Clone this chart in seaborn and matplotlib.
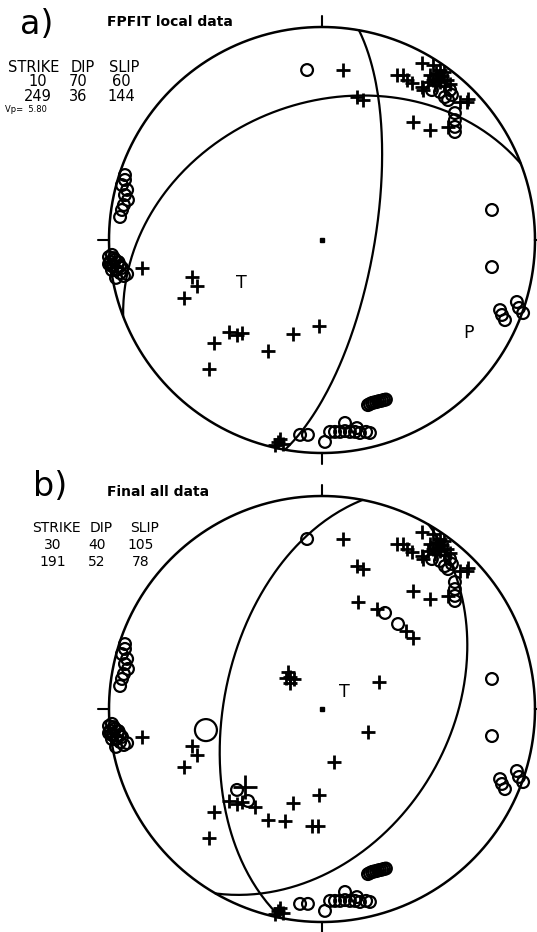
import numpy as np
import pandas as pd
import matplotlib
matplotlib.use("Agg")
import matplotlib.pyplot as plt
import seaborn as sns

sns.set_style("white")
plt.rcParams['font.family'] = ['DejaVu Sans']
plt.rcParams['text.color'] = 'black'

# nodal planes (strike, dip, slip) for both solutions
planes_a = [(10, 70, 60), (249, 36, 144)]
planes_b = [(30, 40, 105), (191, 52, 78)]

# first motions, equal-area lower hemisphere, unit radius (east, north)
dil_e = [-0.07, 0.516, 0.554, 0.601, 0.577, 0.592, 0.61, 0.624, 0.624, 0.624, 0.624,
         0.798, 0.798, 0.836, 0.845, 0.859, 0.915, 0.925, 0.944,
         0.216, 0.235, 0.254, 0.272, 0.291, 0.225, 0.244, 0.263, 0.282, 0.30,
         -0.103, -0.066, 0.014, 0.038, 0.061, 0.085, 0.108, 0.131, 0.155, 0.178, 0.207, 0.225, 0.108, 0.164,
         -0.925, -0.925, -0.939, -0.915, -0.925, -0.911, -0.93, -0.939, -0.948,
         -1.0, -0.986, -0.972, -0.981, -0.967, -0.948, -0.967, -0.93, -0.915, -0.99, -0.955,
         -0.995, -0.958, -0.948, -0.986, -0.939, -1.0, -0.977]
dil_n = [0.798, 0.704, 0.695, 0.704, 0.671, 0.657, 0.681, 0.596, 0.563, 0.531, 0.507,
         0.141, -0.127, -0.329, -0.352, -0.376, -0.291, -0.319, -0.343,
         -0.775, -0.765, -0.761, -0.756, -0.751, -0.770, -0.763, -0.758, -0.754, -0.749,
         -0.915, -0.915, -0.948, -0.901, -0.901, -0.901, -0.897, -0.901, -0.901, -0.906, -0.901, -0.906, -0.859, -0.883,
         0.305, 0.282, 0.258, 0.235, 0.211, 0.188, 0.164, 0.141, 0.108,
         -0.08, -0.07, -0.094, -0.117, -0.141, -0.155, -0.178, -0.169, -0.16, -0.12, -0.105,
         -0.103, -0.103, -0.122, -0.141, -0.131, -0.113, -0.085]

comp_e = [0.099, 0.164, 0.192,
          0.469, 0.521, 0.352, 0.38, 0.399, 0.423, 0.469, 0.474,
          0.507, 0.535, 0.563, 0.587, 0.554, 0.521, 0.577,
          0.545, 0.573, 0.531, 0.498, 0.601, 0.554,
          0.648, 0.681, 0.685, 0.427, 0.507, 0.592,
          -0.207, -0.183, -0.221, -0.197,
          -0.845, -0.61, -0.587, -0.648, -0.437, -0.399, -0.376, -0.507, -0.531,
          -0.254, -0.136, -0.014]
comp_n = [0.798, 0.671, 0.657,
          0.831, 0.822, 0.775, 0.775, 0.751, 0.737, 0.718, 0.704,
          0.775, 0.784, 0.77, 0.751, 0.742, 0.751, 0.723,
          0.761, 0.789, 0.728, 0.742, 0.732, 0.798,
          0.648, 0.648, 0.662, 0.554, 0.516, 0.531,
          -0.948, -0.958, -0.962, -0.934,
          -0.131, -0.174, -0.216, -0.272, -0.432, -0.446, -0.437, -0.484, -0.606,
          -0.521, -0.441, -0.404]

# extra readings used in the final solution only
xdil_e = [0.296, 0.357, -0.399, -0.347]
xdil_n = [0.451, 0.399, -0.38, -0.432]
xcomp_e = [0.169, 0.258, 0.394, 0.427, -0.16, -0.15, -0.169, -0.131, -0.15,
           0.268, 0.216, 0.056, -0.174, -0.047, -0.019, -0.315]
xcomp_n = [0.502, 0.469, 0.366, 0.333, 0.174, 0.15, 0.146, 0.141, 0.122,
           0.127, -0.108, -0.249, -0.526, -0.549, -0.549, -0.46]
big_dil = (-0.545, -0.099)
big_comp = (-0.362, -0.366)

# P and T axes label positions
axes_a = {'T': (-0.38, -0.202), 'P': (0.69, -0.437)}
axes_b = {'T': (0.103, 0.08)}

W, H, R = 537, 932, 213.0


def plane_trace(strike, dip, n=181):
    da = np.linspace(0, 180, n)
    plunge = np.degrees(np.arctan(np.tan(np.radians(dip)) * np.sin(np.radians(da))))
    r = np.sqrt(2) * np.sin(np.radians(90 - plunge) / 2)
    az = np.radians(strike + da)
    return pd.DataFrame({'x': r * np.sin(az), 'y': r * np.cos(az)})


def draw_panel(ax, cy_local, planes, de, dn, ce, cn, labels):
    ax.set_xlim(-322 / R, (W - 322) / R)
    ax.set_ylim(-(466 - cy_local) / R, cy_local / R)
    ax.axis('off')
    t = np.linspace(0, 2 * np.pi, 400)
    ax.plot(np.cos(t), np.sin(t), color='black', lw=1.8, clip_on=False)
    for x0, y0, x1, y1 in [(0, 1, 0, 1.05), (-1, 0, -1.05, 0), (0, -1, 0, -1.05), (1, 0, 1.05, 0)]:
        ax.plot([x0, x1], [y0, y1], color='black', lw=1.5, clip_on=False)
    for s, d, _ in planes:
        tr = plane_trace(s, d)
        sns.lineplot(data=tr, x='x', y='y', sort=False, estimator=None,
                     color='black', lw=1.6, ax=ax)
    sns.scatterplot(x=de, y=dn, marker='o', s=72, facecolor='none',
                    edgecolor='black', linewidth=1.6, ax=ax, clip_on=False)
    sns.scatterplot(x=ce, y=cn, marker='+', s=95, color='black',
                    linewidth=2.0, ax=ax, clip_on=False)
    ax.plot([0], [0], 's', color='black', ms=2.2)
    for k, (x, y) in labels.items():
        ax.text(x, y, k, fontsize=12.5, ha='center', va='center')
    ax.set_xlabel('')
    ax.set_ylabel('')


def ftext(px, py, s, **kw):
    fig.text(px / W, 1 - py / H, s, **kw)


fig = plt.figure(figsize=(W / 100, H / 100), dpi=100)
ax_a = fig.add_axes([0, 0.5, 1, 0.5])
ax_b = fig.add_axes([0, 0, 1, 0.5])

draw_panel(ax_a, 240, planes_a, dil_e, dil_n, comp_e, comp_n, axes_a)
draw_panel(ax_b, 709 - 466, planes_b, dil_e + xdil_e, dil_n + xdil_n,
           comp_e + xcomp_e, comp_n + xcomp_n, axes_b)
sns.scatterplot(x=[big_dil[0]], y=[big_dil[1]], marker='o', s=250, facecolor='none',
                edgecolor='black', linewidth=1.6, ax=ax_b)
sns.scatterplot(x=[big_comp[0]], y=[big_comp[1]], marker='+', s=300, color='black',
                linewidth=2.0, ax=ax_b)

# panel a header
ftext(20, 24, 'a)', fontsize=24, ha='left', va='center')
ftext(107, 21.5, 'FPFIT local data', fontsize=10, fontweight='bold', ha='left', va='center')
for cx, word in zip([33.5, 82.5, 124.5], ['STRIKE', 'DIP', 'SLIP']):
    ftext(cx, 67.5, word, fontsize=10.5, ha='center', va='center')
for row, yy in zip(planes_a, [82, 97]):
    for cx, v in zip([38, 78, 121], row):
        ftext(cx, yy, str(v), fontsize=10.5, ha='center', va='center')
ftext(5, 109, 'Vp=  5.80', fontsize=6, ha='left', va='center')

# panel b header
ftext(33, 487, 'b)', fontsize=24, ha='left', va='center')
ftext(107, 492, 'Final all data', fontsize=10, fontweight='bold', ha='left', va='center')
for cx, word in zip([56, 101.5, 145], ['STRIKE', 'DIP', 'SLIP']):
    ftext(cx, 528, word, fontsize=10, ha='center', va='center')
for row, yy in zip(planes_b, [545, 562]):
    for cx, v in zip([53, 97, 141], row):
        ftext(cx, yy, str(v), fontsize=10, ha='center', va='center')

fig.savefig('out.png', dpi=100)
